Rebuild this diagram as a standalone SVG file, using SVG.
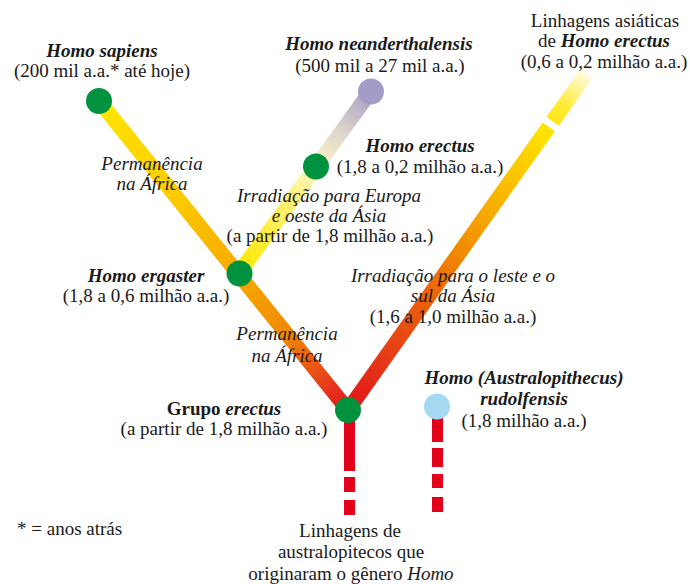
<svg xmlns="http://www.w3.org/2000/svg" width="690" height="584" viewBox="0 0 690 584">
<style>
text{font-family:"Liberation Serif","Times New Roman",serif;font-size:19px;fill:#1a1a1a;text-anchor:middle}
.b{font-weight:bold;font-style:italic}
.i{font-style:italic}
.br{fill:none;stroke-width:15;stroke-linecap:butt}
.g{fill:#00923f}
.red{fill:#e3001b}
</style>
<defs>
<linearGradient id="gL" gradientUnits="userSpaceOnUse" x1="99" y1="101" x2="348" y2="410">
<stop offset="0" stop-color="#ffe600"/>
<stop offset="0.3" stop-color="#fdcb00"/>
<stop offset="0.56" stop-color="#f6aa00"/>
<stop offset="0.75" stop-color="#f08a00"/>
<stop offset="0.92" stop-color="#e63a1c"/>
<stop offset="1" stop-color="#e3131b"/>
</linearGradient>
<linearGradient id="gR" gradientUnits="userSpaceOnUse" x1="348" y1="410" x2="587" y2="73">
<stop offset="0" stop-color="#e3131b"/>
<stop offset="0.15" stop-color="#e53a17"/>
<stop offset="0.35" stop-color="#ec6608"/>
<stop offset="0.5" stop-color="#f39200"/>
<stop offset="0.65" stop-color="#f9bb00"/>
<stop offset="0.82" stop-color="#ffe200"/>
<stop offset="0.9" stop-color="#ffea30"/>
<stop offset="1" stop-color="#fffbe6"/>
</linearGradient>
<linearGradient id="gN" gradientUnits="userSpaceOnUse" x1="239" y1="273" x2="371" y2="91">
<stop offset="0" stop-color="#ffe800"/>
<stop offset="0.35" stop-color="#fff06a"/>
<stop offset="0.59" stop-color="#fdf5c4"/>
<stop offset="0.78" stop-color="#ddd4cc"/>
<stop offset="1" stop-color="#a59bc8"/>
</linearGradient>
</defs>
<g id="connectors">
<line class="br" x1="99" y1="101" x2="348" y2="410" stroke="url(#gL)"/>
<line class="br" x1="239" y1="273" x2="371" y2="91" stroke="url(#gN)"/>
<line class="br" x1="348" y1="410" x2="548.8" y2="126.8" stroke="url(#gR)"/>
<line class="br" x1="552.6" y1="121.4" x2="587" y2="73" stroke="url(#gR)"/>
<rect class="red" x="344" y="415" width="11" height="56"/>
<rect class="red" x="344" y="477" width="11" height="15"/>
<rect class="red" x="344" y="500" width="11" height="15"/>
<rect class="red" x="432" y="415" width="11" height="27"/>
<rect class="red" x="432" y="448" width="11" height="19"/>
<rect class="red" x="432" y="474" width="11" height="14"/>
<rect class="red" x="432" y="497" width="11" height="15"/>
</g>
<g id="sapiens">
<circle class="g" cx="99" cy="101" r="13"/>
<text x="102" y="57" class="b">Homo sapiens</text>
<text x="102" y="77">(200 mil a.a.* até hoje)</text>
</g>
<g id="neanderthalensis">
<circle cx="371" cy="91.5" r="13" fill="#a59bc8"/>
<text x="379" y="50" class="b">Homo neanderthalensis</text>
<text x="380" y="72">(500 mil a 27 mil a.a.)</text>
</g>
<g id="erectus">
<circle class="g" cx="316" cy="166.5" r="13"/>
<text x="420" y="152" class="b">Homo erectus</text>
<text x="420" y="173">(1,8 a 0,2 milhão a.a.)</text>
</g>
<g id="asiaticas">
<text x="605" y="27">Linhagens asiáticas</text>
<text x="604" y="47">de <tspan class="b">Homo erectus</tspan></text>
<text x="604" y="68">(0,6 a 0,2 milhão a.a.)</text>
</g>
<g id="ergaster">
<circle class="g" cx="239.5" cy="273.5" r="13"/>
<text x="146" y="282" class="b">Homo ergaster</text>
<text x="146" y="302">(1,8 a 0,6 milhão a.a.)</text>
</g>
<g id="grupo-erectus">
<circle class="g" cx="348" cy="410" r="13"/>
<text x="224" y="415" font-weight="bold">Grupo <tspan font-style="italic">erectus</tspan></text>
<text x="224" y="435">(a partir de 1,8 milhão a.a.)</text>
</g>
<g id="rudolfensis">
<circle cx="437" cy="406.5" r="13" fill="#a6d9f2"/>
<text x="524" y="384" class="b">Homo (Australopithecus)</text>
<text x="524" y="405" class="b">rudolfensis</text>
<text x="524" y="427">(1,8 milhão a.a.)</text>
</g>
<g id="labels">
<text x="152" y="170" class="i">Permanência</text>
<text x="152" y="190" class="i">na África</text>
<text x="329" y="202" class="i">Irradiação para Europa</text>
<text x="329" y="222" class="i">e oeste da Ásia</text>
<text x="330" y="242">(a partir de 1,8 milhão a.a.)</text>
<text x="453" y="282" class="i">Irradiação para o leste e o</text>
<text x="453" y="302" class="i">sul da Ásia</text>
<text x="453" y="323">(1,6 a 1,0 milhão a.a.)</text>
<text x="287" y="340" class="i">Permanência</text>
<text x="287" y="362" class="i">na África</text>
<text x="350" y="537">Linhagens de</text>
<text x="351" y="558">australopitecos que</text>
<text x="351" y="580">originaram o gênero <tspan class="i">Homo</tspan></text>
<text x="17" y="535" style="text-anchor:start">* = anos atrás</text>
</g>
</svg>
